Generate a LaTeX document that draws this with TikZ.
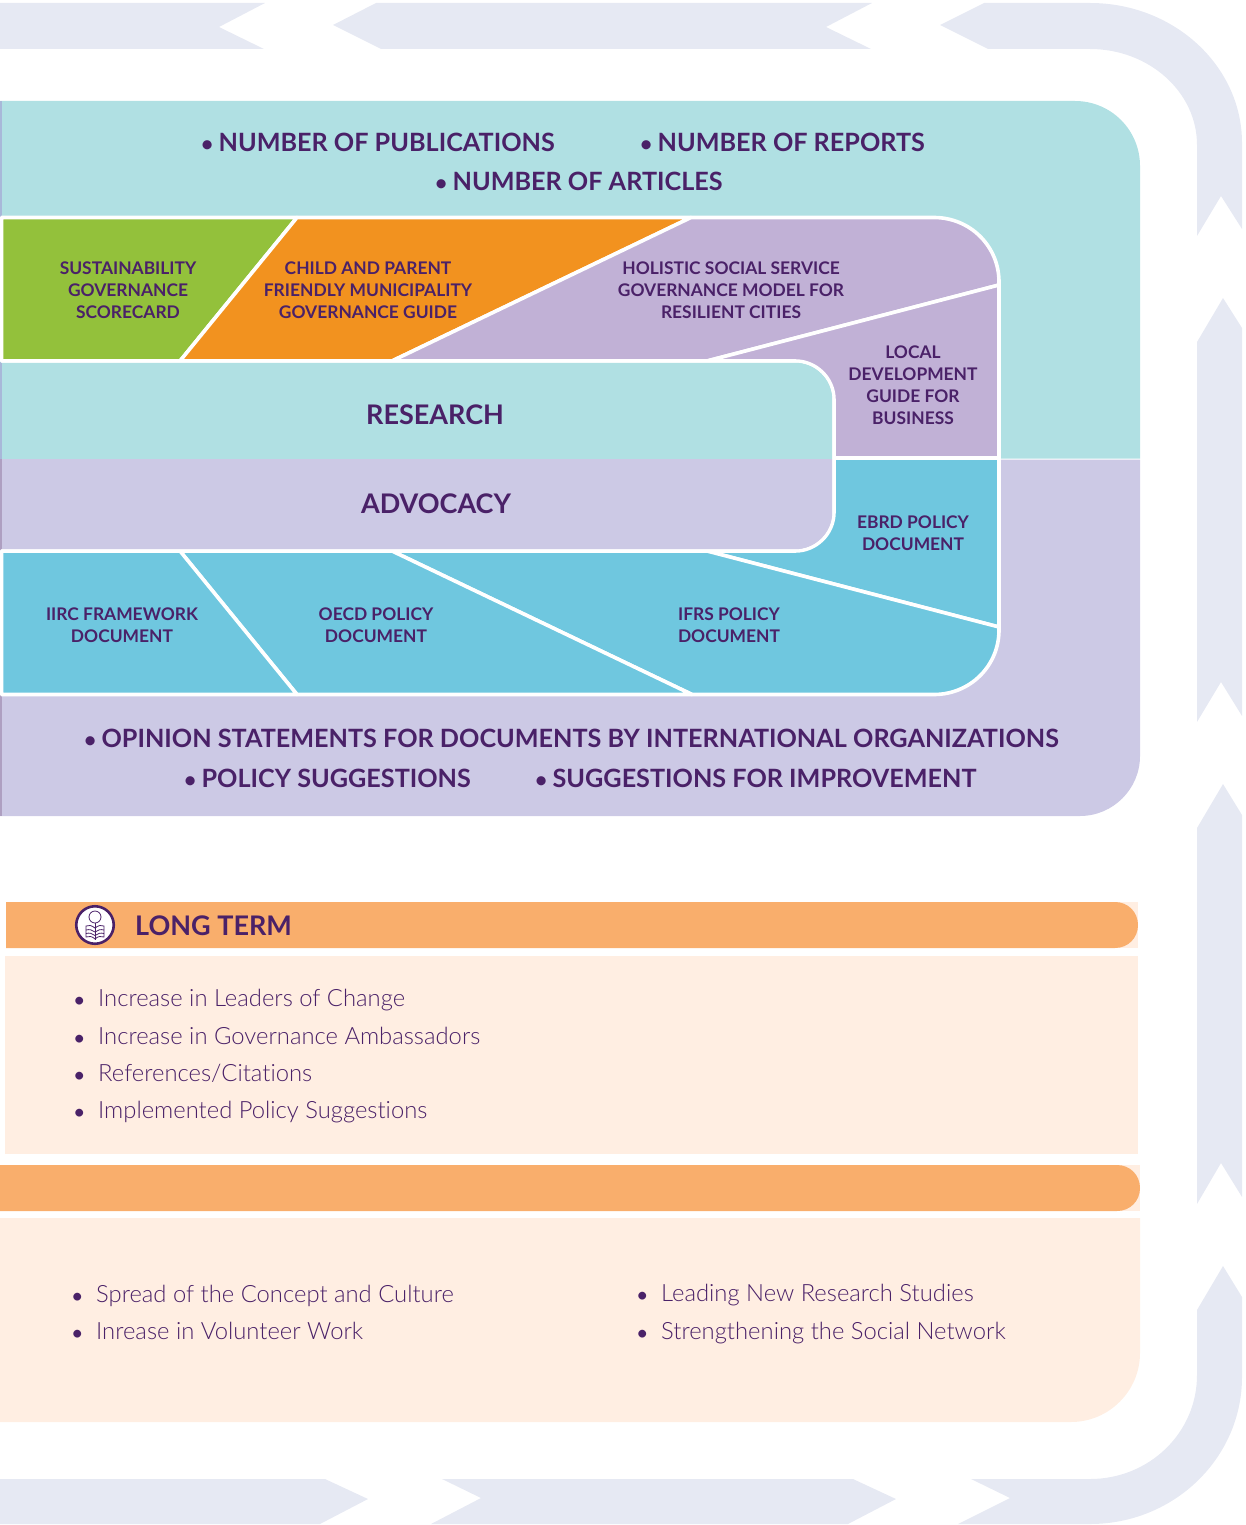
\documentclass[tikz,border=0pt]{standalone}
\usepackage{fontspec}
\setmainfont{Lato}[BoldFont={Lato Bold}]
\newfontfamily\lightf{Lato Light}[Ligatures=NoCommon]
\definecolor{ink}{HTML}{4A2168}
\definecolor{tealbg}{HTML}{B0E0E3}
\definecolor{lavbg}{HTML}{CCC9E5}
\definecolor{leaf}{HTML}{93C13B}
\definecolor{amber}{HTML}{F2921F}
\definecolor{plum}{HTML}{C1B1D6}
\definecolor{sky}{HTML}{6FC7DF}
\definecolor{barorange}{HTML}{F9AE6C}
\definecolor{peach}{HTML}{FFEEE2}
\definecolor{band}{HTML}{E6E9F3}
\tikzset{
  bandpart/.style={fill=band,draw=none},
  cell/.style={draw=white,line width=3.6pt,line join=round},
  celltext/.style={text=ink,font=\fontsize{17.4}{22}\selectfont\bfseries,align=center,inner sep=0pt},
  bigtext/.style={text=ink,font=\fontsize{25.2}{30}\selectfont\bfseries,inner sep=0pt,anchor=base west},
  headtext/.style={text=ink,font=\fontsize{27}{32}\selectfont\bfseries,inner sep=0pt},
  listtext/.style={text=ink,font=\fontsize{23.8}{30}\lightf,inner sep=0pt,anchor=base west},
}
\newcommand{\itemb}[1]{\makebox[22pt][l]{\hspace{-2pt}{\normalfont\bfseries\fontsize{18}{18}\selectfont •}}#1}
\newcommand{\bigb}{\makebox[17.4pt][l]{\fontsize{21}{21}\selectfont •}}
\begin{document}
\begin{tikzpicture}[x=1pt,y=-1pt]
\useasboundingbox (0,0) rectangle (1246,1525);
% arrow band
\fill[bandpart] (0,3)--(265,3)--(219,27)--(264,49)--(0,49)--cycle;
\fill[bandpart] (333,25)--(376,3)--(872,3)--(826,27)--(871,49)--(381,49)--cycle;
\fill[bandpart] (940,25)--(984,3)--(1090,3) .. controls (1174,3) and (1242,66) .. (1242,143)
  --(1242,229)--(1221,196)--(1197,236)--(1197,145) .. controls (1197,92) and (1149,49) .. (1090,49)--(988,49)--cycle;
\fill[bandpart] (1223,298)--(1242,328)--(1242,716)--(1221,682)--(1197,722)--(1197,342)--cycle;
\fill[bandpart] (1223,784)--(1242,815)--(1242,1197)--(1221,1163)--(1197,1204)--(1197,828)--cycle;
\fill[bandpart] (1223,1266)--(1242,1297)--(1242,1377) .. controls (1242,1458) and (1174,1524) .. (1090,1524)
  --(958,1524)--(1010,1498)--(971,1479)--(1090,1479) .. controls (1149,1479) and (1197,1433) .. (1197,1375)--(1197,1310)--cycle;
\fill[bandpart] (0,1479)--(325,1479)--(368,1499)--(320,1524)--(0,1524)--cycle;
\fill[bandpart] (442,1479)--(853,1479)--(896,1499)--(848,1524)--(431,1524)--(481,1498)--cycle;
% main panels
\fill[tealbg] (0,101)--(1075,101) .. controls (1111,101) and (1140,130) .. (1140,166)--(1140,458.5)--(0,458.5)--cycle;
\fill[lavbg] (0,459.5)--(1140,459.5)--(1140,756) .. controls (1140,789) and (1113,816) .. (1080,816)--(0,816)--cycle;
\fill[plum!70!sky] (0,101) rectangle (1.5,459);
\fill[plum!90!black] (0,459) rectangle (1.5,816);
% upper cells
\filldraw[cell,fill=leaf] (1.5,217.5)--(297,217.5)--(180,361)--(1.5,361)--cycle;
\filldraw[cell,fill=amber] (297,217.5)--(691,217.5)--(392,361)--(180,361)--cycle;
\filldraw[cell,fill=plum] (691,217.5)--(934,217.5) .. controls (970,217.5) and (999,246) .. (999,282)--(999,285)--(707,361)--(392,361)--cycle;
\filldraw[cell,fill=plum] (999,285)--(999,458)--(834,458)--(834,400) .. controls (834,378) and (816,361) .. (795,361)--(707,361)--cycle;
% lower cells
\filldraw[cell,fill=sky] (834,458)--(999,458)--(999,627)--(707,551)--(795,551) .. controls (816,551) and (834,534) .. (834,512)--cycle;
\filldraw[cell,fill=sky] (707,551)--(999,627)--(999,630) .. controls (999,666) and (970,694.5) .. (934,694.5)--(692,694.5)--(392,551)--cycle;
\filldraw[cell,fill=sky] (180,551)--(392,551)--(692,694.5)--(297,694.5)--cycle;
\filldraw[cell,fill=sky] (1.5,551)--(180,551)--(297,694.5)--(1.5,694.5)--cycle;
% research / advocacy bars
\fill[tealbg] (0,362.8)--(795,362.8) .. controls (815,362.8) and (832.2,379) .. (832.2,400)--(832.2,459)--(0,459)--cycle;
\fill[lavbg] (0,459)--(832.2,459)--(832.2,512) .. controls (832.2,533) and (815,549.2) .. (795,549.2)--(0,549.2)--cycle;
\fill[plum!70!sky] (0,362.8) rectangle (1.5,459);
\fill[plum!90!black] (0,459) rectangle (1.5,549.2);
% headings and cell labels
\node[bigtext] (pub) at (201,152) {\bigb NUMBER OF PUBLICATIONS};
\node[bigtext] (rep) at (640,152) {\bigb NUMBER OF REPORTS};
\node[bigtext] (art) at (435,191) {\bigb NUMBER OF ARTICLES};
\node[celltext] (c1) at (128,290) {SUSTAINABILITY\\GOVERNANCE\\SCORECARD};
\node[celltext] (c2) at (368,290) {CHILD AND PARENT\\FRIENDLY MUNICIPALITY\\GOVERNANCE GUIDE};
\node[celltext] (c3) at (731,290) {HOLISTIC SOCIAL SERVICE\\GOVERNANCE MODEL FOR\\RESILIENT CITIES};
\node[celltext] (c4) at (913,385) {LOCAL\\DEVELOPMENT\\GUIDE FOR\\BUSINESS};
\node[headtext] (res) at (435,415) {RESEARCH};
\node[headtext] (adv) at (436,504) {ADVOCACY};
\node[celltext] (c5) at (913,533) {EBRD POLICY\\DOCUMENT};
\node[celltext] (c6) at (122,625) {IIRC FRAMEWORK\\DOCUMENT};
\node[celltext] (c7) at (376,625) {OECD POLICY\\DOCUMENT};
\node[celltext] (c8) at (729,625) {IFRS POLICY\\DOCUMENT};
\node[bigtext] (op) at (84,747.5) {\bigb OPINION STATEMENTS FOR DOCUMENTS BY INTERNATIONAL ORGANIZATIONS};
\node[bigtext] (pol) at (184,787.5) {\bigb POLICY SUGGESTIONS};
\node[bigtext] (imp) at (535,787.5) {\bigb SUGGESTIONS FOR IMPROVEMENT};
% long term
\fill[peach] (6,902) rectangle (1138,948);
\fill[barorange] (6,902)--(1115,902) .. controls (1128,902) and (1138,912) .. (1138,925) .. controls (1138,938) and (1128,948) .. (1115,948)--(6,948)--cycle;
\fill[peach] (5,956) rectangle (1138,1154);
\node[circle,draw=ink,fill=white,line width=2.6pt,minimum size=37.5pt,inner sep=0pt] (icon) at (95,925) {};
\begin{scope}[draw=ink,line width=0.8pt]
\draw (95,917) circle (6pt);
\draw (95,923)--(95,940);
\draw (95,928)..controls (91,925) and (89,925) .. (86,926)--(86,937)..controls (89,936) and (92,936) .. (95,939);
\draw (95,928)..controls (99,925) and (101,925) .. (104,926)--(104,937)..controls (101,936) and (98,936) .. (95,939);
\draw (86,930)..controls (90,929) and (92,930) .. (95,932) ..controls (98,930) and (100,929) .. (104,930);
\draw (86,933.5)..controls (90,932.5) and (92,933.5) .. (95,935.5) ..controls (98,933.5) and (100,932.5) .. (104,933.5);
\end{scope}
\node[headtext,anchor=base west] (lt) at (135,935) {LONG TERM};
\node[listtext] (l1) at (76,1006) {\itemb{Increase in Leaders of Change}};
\node[listtext] (l2) at (76,1044) {\itemb{Increase in Governance Ambassadors}};
\node[listtext] (l3) at (76,1081) {\itemb{References/Citations}};
\node[listtext] (l4) at (76,1118) {\itemb{Implemented Policy Suggestions}};
% second bar
\fill[peach] (0,1165) rectangle (1140,1211);
\fill[barorange] (0,1165)--(1117,1165) .. controls (1130,1165) and (1140,1175) .. (1140,1188) .. controls (1140,1201) and (1130,1211) .. (1117,1211)--(0,1211)--cycle;
\fill[peach] (0,1218)--(1140,1218)--(1140,1353) .. controls (1140,1391) and (1109,1422) .. (1071,1422)--(0,1422)--cycle;
\node[listtext] (s1) at (74,1302) {\itemb{Spread of the Concept and Culture}};
\node[listtext] (s2) at (74,1339) {\itemb{Inrease in Volunteer Work}};
\node[listtext] (s3) at (639,1301) {\itemb{Leading New Research Studies}};
\node[listtext] (s4) at (639,1339) {\itemb{Strengthening the Social Network}};
\end{tikzpicture}
\end{document}
